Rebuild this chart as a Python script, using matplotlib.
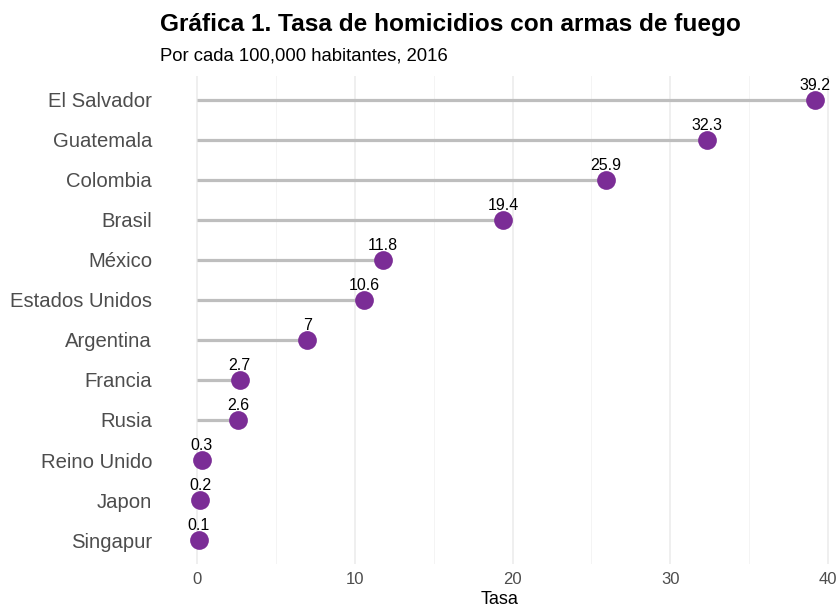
import matplotlib.pyplot as plt

plt.rcParams['font.family'] = ['Liberation Sans', 'DejaVu Sans']

# datos
paises = ['El Salvador', 'Guatemala', 'Colombia', 'Brasil', 'México', 'Estados Unidos',
          'Argentina', 'Francia', 'Rusia', 'Reino Unido', 'Japon', 'Singapur']
tasas = [39.2, 32.3, 25.9, 19.4, 11.8, 10.6, 7, 2.7, 2.6, 0.3, 0.2, 0.1]
etiquetas = ['39.2', '32.3', '25.9', '19.4', '11.8', '10.6', '7', '2.7', '2.6', '0.3', '0.2', '0.1']
x_ticks = [0, 10, 20, 30, 40]

W, H = 836, 607
fig = plt.figure(figsize=(W / 100, H / 100), dpi=100)
ax = fig.add_axes([166 / W, 1 - 564 / H, (834 - 166) / W, (564 - 76) / H])

n = len(paises)
ys = list(range(n - 1, -1, -1))

ax.hlines(ys, 0, tasas, color='#bebebe', lw=2.3, zorder=2)
ax.plot(tasas, ys, 'o', color='#7b2d96', ms=13.5, mec='none', zorder=3)
for x, y, t in zip(tasas, ys, etiquetas):
    ax.annotate(t, (x, y), xytext=(0, 5), textcoords='offset points',
                ha='center', va='bottom', fontsize=11.5, color='black')

ax.set_xlim(-1.97, 40.38)
ax.set_ylim(-0.6, n - 0.4)
ax.set_yticks(ys)
ax.set_yticklabels(paises, fontsize=14.6, color='#4d4d4d')
ax.set_xticks(x_ticks)
ax.set_xticklabels([str(v) for v in x_ticks], fontsize=12, color='#4d4d4d')
ax.set_xticks([5, 15, 25, 35], minor=True)
ax.tick_params(axis='y', length=0, which='both', pad=10)
ax.tick_params(axis='x', length=0, which='both', pad=6)
ax.grid(axis='x', which='major', color='#ebebeb', lw=1.1, zorder=0)
ax.grid(axis='x', which='minor', color='#f2f2f2', lw=0.6, zorder=0)
ax.set_axisbelow(True)
for s in ax.spines.values():
    s.set_visible(False)
ax.set_xlabel('Tasa', fontsize=13, labelpad=3)

fig.text(160 / W, 1 - 25 / H, 'Gráfica 1. Tasa de homicidios con armas de fuego',
         fontsize=17.6, fontweight='bold', va='center', ha='left')
fig.text(160 / W, 1 - 56 / H, 'Por cada 100,000 habitantes, 2016',
         fontsize=13.3, va='center', ha='left')

fig.savefig('out.png', dpi=100)
